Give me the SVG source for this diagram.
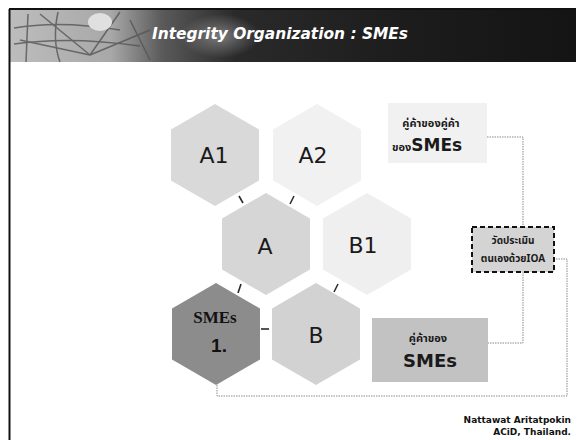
<svg xmlns="http://www.w3.org/2000/svg" width="582" height="440" viewBox="0 0 582 440">
<defs>
<linearGradient id="hdr" x1="0" y1="0" x2="1" y2="0">
<stop offset="0" stop-color="#bdbdbd"/>
<stop offset="0.18" stop-color="#a8a8a8"/>
<stop offset="0.27" stop-color="#5a5a5a"/>
<stop offset="0.4" stop-color="#2a2a2a"/>
<stop offset="0.7" stop-color="#1c1c1c"/>
<stop offset="1" stop-color="#141414"/>
</linearGradient>
<radialGradient id="blob" cx="0.5" cy="0.5" r="0.5">
<stop offset="0" stop-color="#8a8a8a" stop-opacity="0.8"/>
<stop offset="1" stop-color="#8a8a8a" stop-opacity="0"/>
</radialGradient>
</defs>
<style>
.hexlbl{font-family:"DejaVu Sans","Liberation Sans",sans-serif;font-size:22px;fill:#1a1a1a;text-anchor:middle}
.tick{stroke:#2a2a2a;stroke-width:1.6;fill:none}
.dot{stroke:#8a8a8a;stroke-width:1;stroke-dasharray:1.5 1;fill:none}
.thai{font-family:"Noto Sans Thai","Noto Serif Thai","Noto Sans","DejaVu Sans",sans-serif;fill:#1a1a1a;text-anchor:middle;font-weight:bold}
.big{font-family:"DejaVu Sans","Liberation Sans",sans-serif;font-weight:bold;fill:#1a1a1a}
</style>
<rect x="0" y="0" width="582" height="440" fill="#ffffff"/>
<!-- header -->
<g id="header">
<rect x="9" y="9" width="567" height="53" fill="url(#hdr)"/>
<g stroke="#555" stroke-width="1.5" fill="none" opacity="0.8">
<path d="M14 28 Q60 20 120 30"/>
<path d="M14 44 Q70 36 140 46"/>
<path d="M28 14 L26 62"/>
<path d="M58 12 Q52 40 60 62"/>
<path d="M90 55 L40 14"/>
<path d="M90 55 L120 12"/>
<path d="M90 55 L150 30"/>
<path d="M90 55 L20 40"/>
<path d="M130 20 L150 60"/>
</g>
<ellipse cx="100" cy="22" rx="12" ry="9" fill="#e0e0e0"/>
<ellipse cx="220" cy="36" rx="40" ry="22" fill="url(#blob)"/>
<text x="152" y="39" font-family="DejaVu Sans,Verdana,sans-serif" font-weight="bold" font-style="italic" font-size="16" fill="#ffffff" textLength="256" lengthAdjust="spacingAndGlyphs">Integrity Organization : SMEs</text>
</g>
<line x1="9" y1="9" x2="576" y2="9" stroke="#111" stroke-width="2"/>
<line x1="9.5" y1="9" x2="9.5" y2="440" stroke="#111" stroke-width="2"/>
<!-- connectors -->
<g id="connectors">
<line class="tick" x1="239" y1="196" x2="243" y2="203"/>
<line class="tick" x1="294" y1="196" x2="290" y2="204"/>
<line class="tick" x1="241" y1="284" x2="238" y2="293"/>
<line class="tick" x1="338" y1="284" x2="334" y2="292"/>
<line class="tick" x1="261" y1="329" x2="269" y2="329"/>
<path class="dot" d="M487 137 H523 V227"/>
<path class="dot" d="M523 272 V343 H488"/>
<path class="dot" d="M217 385 V396 H567 V259 H555"/>
</g>
<!-- hexagons -->
<g id="A1"><polygon points="215,104 259,129.5 259,180.5 215,206 171,180.5 171,129.5" fill="#d9d9d9"/><text class="hexlbl" x="214" y="163">A1</text></g>
<g id="A2"><polygon points="317,104 361,129.5 361,180.5 317,206 273,180.5 273,129.5" fill="#f1f1f1"/><text class="hexlbl" x="313" y="163">A2</text></g>
<g id="A"><polygon points="266,193 310,218.5 310,269.5 266,295 222,269.5 222,218.5" fill="#d6d6d6"/><text class="hexlbl" x="265" y="254">A</text></g>
<g id="B1"><polygon points="367,193 411,218.5 411,269.5 367,295 323,269.5 323,218.5" fill="#efefef"/><text class="hexlbl" x="363" y="253">B1</text></g>
<g id="SMEs1"><polygon points="216,283 260,308.5 260,359.5 216,385 172,359.5 172,308.5" fill="#8c8c8c"/>
<text x="215" y="323" font-family="Liberation Serif,serif" font-weight="bold" font-size="17" fill="#111" text-anchor="middle">SMEs</text>
<text x="219" y="352" font-family="Liberation Sans,Arial,sans-serif" font-weight="bold" font-size="19" fill="#111" text-anchor="middle">1.</text></g>
<g id="B"><polygon points="316,283 360,308.5 360,359.5 316,385 272,359.5 272,308.5" fill="#d2d2d2"/><text class="hexlbl" x="316" y="343">B</text></g>
<!-- boxes -->
<g id="partner2">
<rect x="388" y="103" width="99" height="60" fill="#f1f1f1"/>
<text class="thai" x="431" y="127" font-size="11">คู่ค้าของคู่ค้า</text>
<text x="392" y="151" font-size="11" font-family="Noto Sans Thai,Noto Sans,DejaVu Sans,sans-serif" font-weight="bold" fill="#1a1a1a">ของ<tspan class="big" font-size="17">SMEs</tspan></text>
</g>
<g id="assess">
<rect x="472" y="227" width="82" height="45" fill="#d4d4d4" stroke="#111" stroke-width="2" stroke-dasharray="5 3"/>
<text class="thai" x="513" y="244" font-size="10" font-weight="normal">วัดประเมิน</text>
<text class="thai" x="513" y="262" font-size="10" font-weight="normal">ตนเองด้วยIOA</text>
</g>
<g id="partner1">
<rect x="372" y="318" width="116" height="64" fill="#c2c2c2"/>
<text class="thai" x="428" y="342" font-size="11">คู่ค้าของ</text>
<text class="big" x="430" y="367" font-size="18" text-anchor="middle">SMEs</text>
</g>
<g id="footer" font-family="DejaVu Sans,Verdana,sans-serif" font-weight="bold" font-size="9" fill="#111" text-anchor="end">
<text x="571" y="423">Nattawat Aritatpokin</text>
<text x="571" y="435">ACiD, Thailand.</text>
</g>
</svg>
